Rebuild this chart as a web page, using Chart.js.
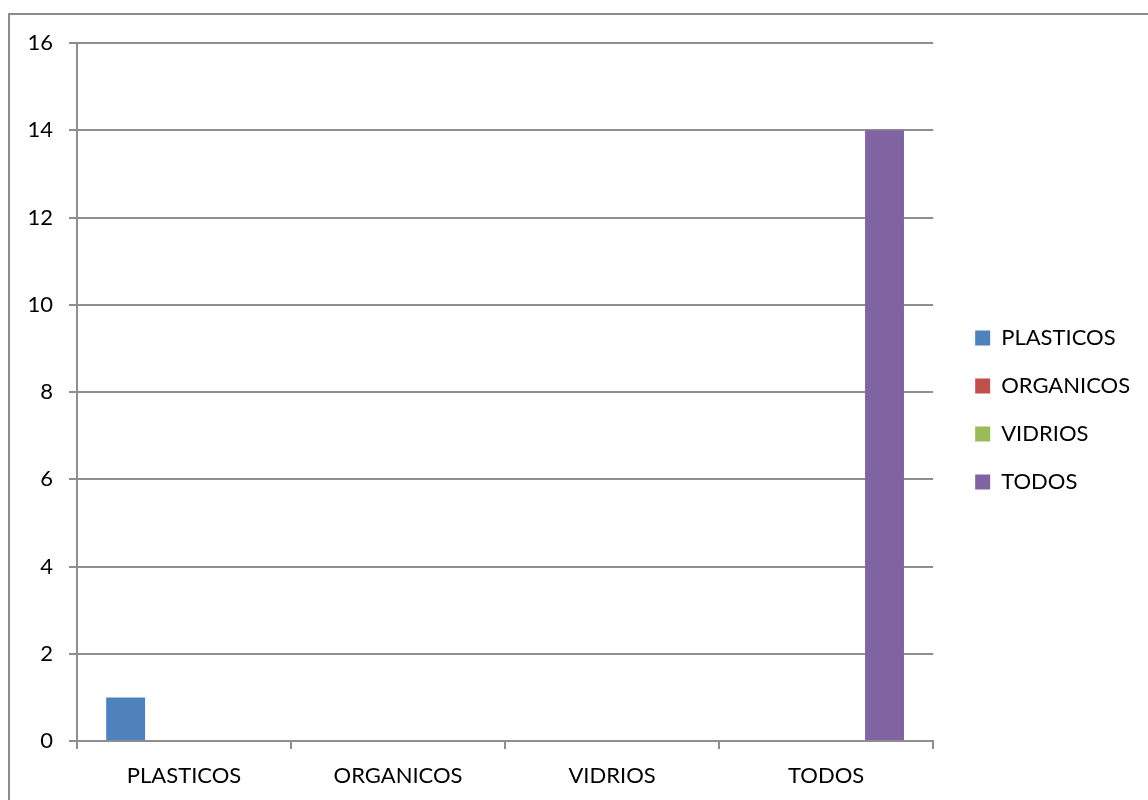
<!DOCTYPE html>
<html>
<head>
<meta charset="utf-8">
<script src="https://cdn.jsdelivr.net/npm/chart.js@4"></script>
<style>
  html, body { margin: 0; padding: 0; background: #fff; overflow: hidden; }
  #frame {
    position: absolute; left: 8px; top: 13px;
    width: 1200px; height: 900px;
    border: 2px solid #8c8c8c;
  }
  #chart { position: absolute; left: 0; top: 0; }
</style>
</head>
<body>
<div id="frame"></div>
<canvas id="chart" width="1148" height="800"></canvas>
<script>
var categories = ['PLASTICOS', 'ORGANICOS', 'VIDRIOS', 'TODOS'];
var plasticos = [1, 0, 0, 0];
var organicos = [0, 0, 0, 0];
var vidrios = [0, 0, 0, 0];
var todos = [0, 0, 0, 14];
var yTicks = [0, 2, 4, 6, 8, 10, 12, 14, 16];

var gridColor = '#8e8e8e';
var labelFont = { family: 'Lato', size: 22 };

// empty axes used only to reserve space around the plot
function spacer(position, size) {
  return {
    type: 'linear',
    position: position,
    grid: { display: false },
    border: { display: false },
    ticks: { display: false },
    afterFit: function(s) {
      if (position === 'top') s.height = size; else s.width = size;
    }
  };
}

document.addEventListener('DOMContentLoaded', function() {
  var ctx = document.getElementById('chart').getContext('2d');
  new Chart(ctx, {
    type: 'bar',
    data: {
      labels: categories,
      datasets: [
        { label: 'PLASTICOS', data: plasticos, backgroundColor: '#4f81bd' },
        { label: 'ORGANICOS', data: organicos, backgroundColor: '#c0504d' },
        { label: 'VIDRIOS', data: vidrios, backgroundColor: '#9bbb59' },
        { label: 'TODOS', data: todos, backgroundColor: '#8064a2' }
      ]
    },
    options: {
      responsive: false,
      animation: false,
      layout: { padding: { top: 20, left: 0, right: 9, bottom: 0 } },
      datasets: {
        bar: { categoryPercentage: 4 / 5.5, barPercentage: 1, borderWidth: 0, xAxisID: 'x', yAxisID: 'y' }
      },
      scales: {
        x: {
          grid: { offset: true, drawOnChartArea: false, tickLength: 8, color: gridColor, lineWidth: 2 },
          border: { color: gridColor, width: 2 },
          ticks: { color: '#000', font: labelFont, padding: 14 },
          afterFit: function(s) { s.height = 59; }
        },
        y: {
          min: 0,
          max: 16,
          afterBuildTicks: function(s) { s.ticks = yTicks.map(function(v) { return { value: v }; }); },
          grid: { color: gridColor, lineWidth: 2, tickLength: 8 },
          border: { color: gridColor, width: 2 },
          ticks: { color: '#000', font: labelFont, padding: 16 },
          afterFit: function(s) { s.width = 77; }
        },
        headroom: spacer('top', 23),
        gap: spacer('right', 16)
      },
      plugins: {
        tooltip: { enabled: false },
        legend: {
          position: 'right',
          labels: {
            boxWidth: 15,
            boxHeight: 15,
            padding: 26,
            color: '#000',
            font: labelFont
          }
        }
      }
    }
  });
});
</script>
</body>
</html>
